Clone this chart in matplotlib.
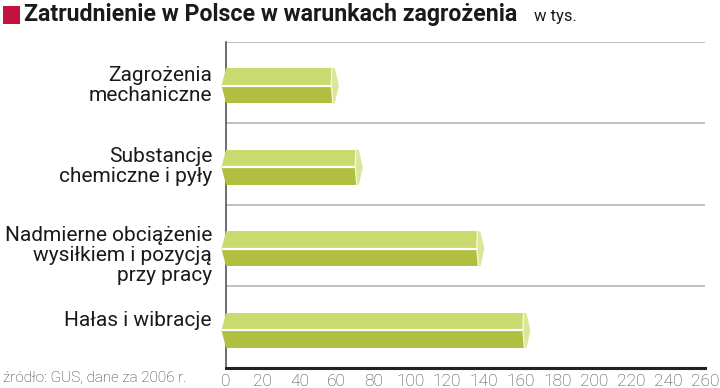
import matplotlib
matplotlib.use("Agg")
import matplotlib.pyplot as plt
from matplotlib.patches import Polygon, Rectangle

categories = ["Zagrożenia\nmechaniczne", "Substancje\nchemiczne i pyły",
              "Nadmierne obciążenie\nwysiłkiem i pozycją\nprzy pracy", "Hałas i wibracje"]
values = [58, 71, 137, 162]
xticks = list(range(0, 261, 20))

title = "Zatrudnienie w Polsce w warunkach zagrożenia"
unit = "w tys."
source = "źródło: GUS, dane za 2006 r."

W, H = 720, 388
fig = plt.figure(figsize=(W / 100, H / 100), dpi=100)
ax = fig.add_axes([226 / W, 1 - 368 / H, (705 - 226) / W, (368 - 41.5) / H])
ax.set_xlim(0, 260)
ax.set_ylim(4, 0)

top_c = "#c9da6e"
bot_c = "#b0bf3f"
cap_c = "#dce698"

pxu = 260 / (705 - 226)  # data units per pixel
bh = 0.43
for i, v in enumerate(values):
    c = i + 0.54
    top = c - bh / 2
    bot = c + bh / 2
    ax.barh(c - bh / 4, v, height=bh / 2, left=0, color=top_c, edgecolor="none", zorder=3)
    ax.barh(c + bh / 4, v, height=bh / 2, left=0, color=bot_c, edgecolor="none", zorder=3)
    ax.add_patch(Polygon([(0, top), (-4.5 * pxu, c), (0, c)], closed=True,
                         facecolor=top_c, edgecolor="none", zorder=3, clip_on=False))
    ax.add_patch(Polygon([(0, c), (-4.5 * pxu, c), (0, bot)], closed=True,
                         facecolor=bot_c, edgecolor="none", zorder=3, clip_on=False))
    ax.add_patch(Polygon([(v - 1 * pxu, top), (v + 2 * pxu, top), (v + 6 * pxu, c),
                          (v + 2 * pxu, bot), (v, bot), (v - 1.5 * pxu, c)], closed=True,
                         facecolor=cap_c, edgecolor="none", zorder=4, clip_on=False))
    ax.plot([-4.5 * pxu, v - 1.5 * pxu], [c, c], color="white", lw=1.6, zorder=5,
            solid_capstyle="butt", clip_on=False)
    ax.plot([v - 1 * pxu, v - 1.5 * pxu, v], [top, c, bot], color="#f4f7d8", lw=1.0,
            zorder=5, clip_on=False)

for yb in [0, 1, 2, 3]:
    ax.axhline(yb, color="#b5b5b5", lw=1.2, zorder=1)

for s in ["top", "right"]:
    ax.spines[s].set_visible(False)
ax.spines["left"].set_color("#555555")
ax.spines["left"].set_linewidth(1.2)
ax.spines["bottom"].set_color("#222222")
ax.spines["bottom"].set_linewidth(2.2)

ax.set_xticks(xticks)
ax.set_xticklabels([str(t) for t in xticks], fontsize=12.5, color="#444444",
                   family=["Roboto", "DejaVu Sans"], fontweight="light")
ax.tick_params(axis="x", length=0, pad=4)
ax.set_yticks([])

label_offsets = [0.54, 0.53, 0.62, 0.42]
for i, lab in enumerate(categories):
    ax.text(-14 * pxu, i + label_offsets[i], lab, ha="right", va="center",
            multialignment="right", fontsize=15, color="#1a1a1a",
            family=["Roboto", "DejaVu Sans"], linespacing=1.08, clip_on=False)

fig.patches.append(Rectangle((3 / W, 1 - 24 / H), 17 / W, 18 / H, transform=fig.transFigure,
                             facecolor="#c4123f", edgecolor="none"))
fig.text(24 / W, 1 - 15 / H, title, ha="left", va="center", fontsize=16.7,
         fontweight="bold", color="#1a1a1a", family=["Roboto", "DejaVu Sans"])
fig.text(534 / W, 1 - 17 / H, unit, ha="left", va="center", fontsize=12,
         color="#1a1a1a", family=["Roboto", "DejaVu Sans"])
fig.text(3 / W, 1 - 378 / H, source, ha="left", va="center", fontsize=11,
         color="#333333", family=["Roboto", "DejaVu Sans"], fontweight="light")

fig.savefig("out.png", dpi=100)
